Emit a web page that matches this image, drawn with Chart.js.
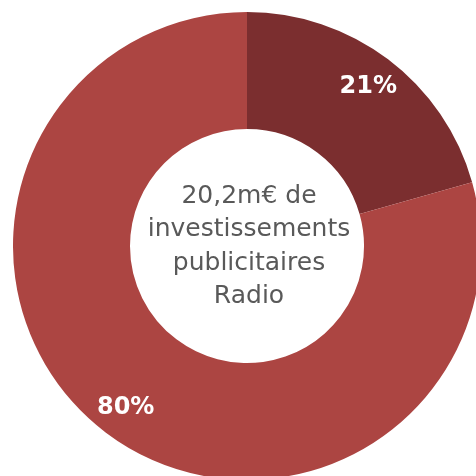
<!DOCTYPE html>
<html>
<head>
<meta charset="utf-8">
<script src="https://cdn.jsdelivr.net/npm/chart.js@4"></script>
<style>
  html, body { margin: 0; padding: 0; background: #fff; overflow: hidden; width: 476px; height: 476px; }
  #wrap { position: absolute; left: 13px; top: 12px; width: 468px; height: 468px; }
</style>
</head>
<body>
<div id="wrap"><canvas id="donut"></canvas></div>
<script>
const categories = ["Radio", "Autres"];
const shares = [20.6, 79.4];
const shareLabels = ["21%", "80%"];
const sliceColors = ["#7b2e2f", "#ac4542"];
const centerLines = ["20,2m\u20ac de", "investissements", "publicitaires", "Radio"];

// draws the % labels on slices and the text in the hole
const labelsPlugin = {
    id: "labels",
    afterDatasetsDraw(chart) {
        let ctx = chart.ctx;
        let meta = chart.getDatasetMeta(0);
        ctx.save();
        ctx.fillStyle = "#fff";
        ctx.font = "bold 24px 'DejaVu Sans'";
        ctx.textAlign = "center";
        ctx.textBaseline = "middle";
        meta.data.forEach((arc, i) => {
            let p = arc.getProps(["x", "y", "startAngle", "endAngle", "innerRadius", "outerRadius"], true);
            let mid = (p.startAngle + p.endAngle) / 2;
            let r = p.innerRadius + 0.72 * (p.outerRadius - p.innerRadius);
            ctx.fillText(shareLabels[i], p.x + Math.cos(mid) * r, p.y + Math.sin(mid) * r + 1);
        });
        // center text
        let cx = meta.data[0].x, cy = meta.data[0].y;
        ctx.fillStyle = "#595959";
        ctx.font = "25px 'DejaVu Sans'";
        ctx.textBaseline = "alphabetic";
        centerLines.forEach((line, i) => {
            ctx.fillText(line, cx + 2, cy - 43 + i * 33.4);
        });
        ctx.restore();
    }
};

new Chart("donut", {
    type: "doughnut",
    data: {
        labels: categories,
        datasets: [{
            data: shares,
            backgroundColor: sliceColors,
            borderWidth: 0,
        }]
    },
    options: {
        responsive: true,
        maintainAspectRatio: false,
        animation: false,
        cutout: "50%",
        layout: { padding: 0 },
        plugins: {
            legend: { display: false },
            tooltip: { enabled: false }
        }
    },
    plugins: [labelsPlugin]
});
</script>
</body>
</html>
